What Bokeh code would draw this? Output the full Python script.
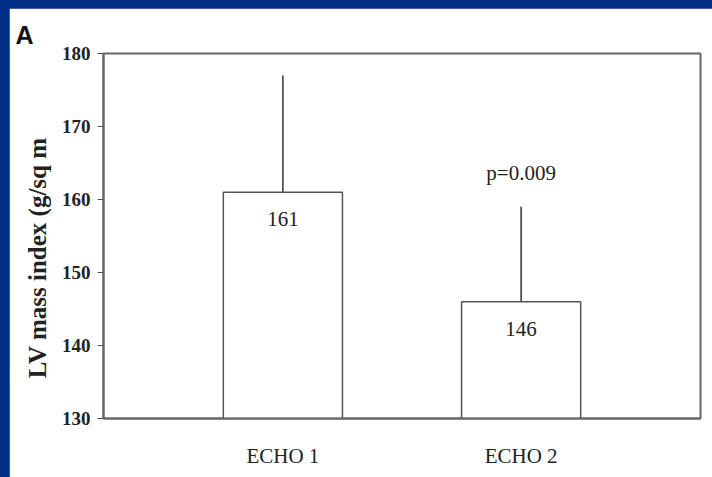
from bokeh.plotting import figure
from bokeh.models import FactorRange, FixedTicker, ColumnDataSource, GlobalInlineStyleSheet
from bokeh.embed import file_html
from bokeh.resources import INLINE
from bokeh.core.properties import value

# ---- data ----
categories = ["ECHO 1", "ECHO 2"]
means = [161, 146]
upper = [177, 159]
value_labels = ["161", "146"]
p_labels = ["", "p=0.009"]
y_ticks = [130, 140, 150, 160, 170, 180]
y_title = "LV mass index (g/sq m"
panel_letter = "A"

SERIF = "Liberation Serif"

p = figure(width=703, height=469, output_backend="svg", toolbar_location=None,
           x_range=FactorRange(*categories, range_padding=0.253),
           y_range=(130, 180),
           min_border_left=94, min_border_top=45, min_border_right=12, min_border_bottom=59)
p.stylesheets = [GlobalInlineStyleSheet(
    css="html, body { background: #002d86; } body { padding: 8px 0 0 9px; }")]
p.background_fill_color = "white"
p.border_fill_color = "white"
p.outline_line_color = "#666666"
p.outline_line_width = 2
p.grid.visible = False

src = ColumnDataSource(dict(
    x=categories, top=means, up=upper, lab=value_labels, plab=p_labels,
    laby=[m - 3.7 for m in means], py=[u + 4.6 for u in upper]))

p.segment(x0="x", y0="top", x1="x", y1="up", source=src, line_color="#333333", line_width=1.5)
p.vbar(x="x", width=0.5, bottom=130, top="top", source=src,
       fill_color="white", line_color="#555555", line_width=1.5)
p.text(x="x", y="laby", text="lab", source=src, text_align="center", text_baseline="middle",
       text_font=value(SERIF), text_font_size="21px", text_color="#222222")
p.text(x="x", y="py", text="plab", source=src, text_align="center", text_baseline="middle",
       text_font=value(SERIF), text_font_size="21px", text_color="#222222")

# y axis
ya = p.yaxis[0]
ya.ticker = FixedTicker(ticks=y_ticks)
ya.minor_tick_line_color = None
ya.major_tick_in = 0
ya.major_tick_out = 6
ya.major_label_standoff = 7
ya.axis_line_color = "#666666"
ya.axis_line_width = 2
ya.major_tick_line_color = "#555555"
ya.major_label_text_font = SERIF
ya.major_label_text_font_style = "bold"
ya.major_label_text_font_size = "19px"
ya.major_label_text_color = "#222222"
# trailing no-break spaces push the visible title below centre, as in the reference
ya.axis_label = y_title + "\u00a0" * 7
ya.axis_label_standoff = 8
ya.axis_label_text_font = SERIF
ya.axis_label_text_font_style = "bold"
ya.axis_label_text_font_size = "25px"
ya.axis_label_text_color = "#222222"

# x axis
xa = p.xaxis[0]
xa.major_tick_line_color = None
xa.minor_tick_line_color = None
xa.major_tick_out = 0
xa.major_tick_in = 0
xa.axis_line_color = "#666666"
xa.axis_line_width = 2
xa.major_label_standoff = 25
xa.major_label_text_font = SERIF
xa.major_label_text_font_size = "21px"
xa.major_label_text_color = "#222222"

# panel letter as title
p.title.text = panel_letter
p.title.align = "left"
p.title.offset = -88
p.title.standoff = 9
p.title.text_font = "Liberation Sans"
p.title.text_font_style = "bold"
p.title.text_font_size = "25px"
p.title.text_color = "#111111"

open("out.html", "w").write(file_html(p, INLINE))
